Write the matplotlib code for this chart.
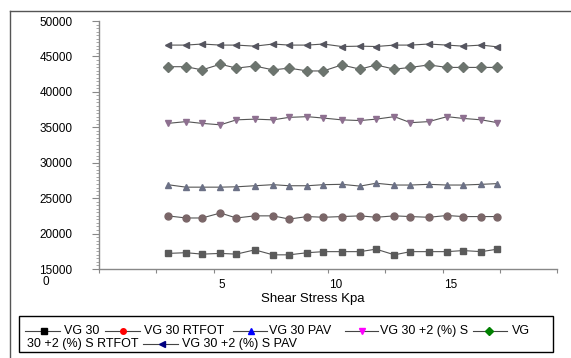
import matplotlib
matplotlib.use("Agg")
import matplotlib.pyplot as plt
import matplotlib.transforms as mtransforms
from matplotlib.lines import Line2D
from matplotlib.patches import Rectangle

plt.rcParams['font.family'] = ['Liberation Sans', 'DejaVu Sans']

# Shear stress (kPa) and complex modulus readings for each binder
shear = [3.0, 3.8, 4.5, 5.3, 6.0, 6.8, 7.6, 8.3, 9.1, 9.8,
         10.6, 11.4, 12.1, 12.9, 13.6, 14.4, 15.2, 15.9, 16.7, 17.4]

vg30 = [17200, 17300, 17100, 17200, 17100, 17700, 17000, 17000, 17300, 17450,
        17450, 17450, 17800, 17000, 17450, 17450, 17450, 17600, 17450, 17800]
vg30_rtfot = [22500, 22200, 22200, 22900, 22200, 22500, 22500, 22050, 22400, 22300,
              22400, 22500, 22300, 22500, 22400, 22300, 22550, 22400, 22400, 22400]
vg30_pav = [26900, 26550, 26550, 26550, 26600, 26750, 26900, 26750, 26750, 26900,
            26950, 26700, 27100, 26850, 26850, 26950, 26850, 26850, 26950, 27050]
vg30_s = [35550, 35800, 35550, 35350, 36050, 36150, 36050, 36400, 36500, 36300,
          36050, 35950, 36150, 36500, 35650, 35800, 36500, 36250, 36050, 35650]
vg30_s_rtfot = [43550, 43550, 43100, 43900, 43350, 43650, 43100, 43350, 42950, 42950,
                43800, 43200, 43800, 43200, 43450, 43800, 43450, 43450, 43450, 43450]
vg30_s_pav = [46600, 46600, 46750, 46600, 46600, 46450, 46750, 46600, 46600, 46750,
              46400, 46450, 46400, 46600, 46600, 46750, 46600, 46450, 46600, 46350]

series = [vg30, vg30_rtfot, vg30_pav, vg30_s, vg30_s_rtfot, vg30_s_pav]
labels = ["VG 30", "VG 30 RTFOT", "VG 30 PAV", "VG 30 +2 (%) S",
          "VG 30 +2 (%) S RTFOT", "VG 30 +2 (%) S PAV"]
markers = ["s", "o", "^", "v", "D", "<"]
legend_colors = ["black", "red", "blue", "magenta", "green", "navy"]
# the markers in the plot look washed out / greyish
plot_colors = ["#5a5a5a", "#7a6668", "#6c7186", "#8e7090", "#6c746e", "#55555f"]

W, H = 571, 358
fig = plt.figure(figsize=(W / 100, H / 100), dpi=100)

def fx(px):
    return px / W

def fy(py):
    return 1 - py / H

ax = fig.add_axes([fx(99), fy(269), fx(557) - fx(99), fy(21) - fy(269)])

for ys, m, c in zip(series, markers, plot_colors):
    ax.plot(shear, ys, color="#555555", lw=0.8, marker=m, markersize=5,
            markerfacecolor=c, markeredgecolor=c)

ax.set_xlim(0, 20)
ax.set_ylim(15000, 50000)
ax.set_yticks(range(15000, 50001, 5000))
ax.set_yticks(range(15000, 50001, 500), minor=True)
ax.set_xticks([0, 2.5, 5, 7.5, 10, 12.5, 15, 17.5, 20])
ax.set_xticklabels(["", "", "5", "", "10", "", "15", "", ""])

for s in ["top", "right"]:
    ax.spines[s].set_visible(False)
for s in ["left", "bottom"]:
    ax.spines[s].set_color("#888888")
    ax.spines[s].set_linewidth(1.0)

ax.tick_params(axis="y", which="major", length=5, color="#888888", pad=14, labelsize=8.5)
ax.tick_params(axis="y", which="minor", length=2, color="#999999")
ax.tick_params(axis="x", length=3, color="#888888", pad=4, labelsize=8.5)

offset = mtransforms.ScaledTranslation(8 / 100, 0, fig.dpi_scale_trans)
for lbl in ax.get_xticklabels():
    lbl.set_transform(lbl.get_transform() + offset)

fig.text(fx(43), fy(282), "0", fontsize=8.5, ha="left", va="center")
fig.text(fx(313), fy(299), "Shear Stress Kpa", fontsize=9.5, ha="center", va="center")

# outer frame (top and left edges only visible)
fig.add_artist(Line2D([fx(10), 1], [fy(11), fy(11)], color="#555555", lw=1))
fig.add_artist(Line2D([fx(10), fx(10)], [fy(11), 0], color="#555555", lw=1))

# legend box drawn by hand, Excel-like wrapping
fig.add_artist(Rectangle((fx(19), fy(352)), fx(553) - fx(19), fy(316) - fy(352),
                         transform=fig.transFigure, fill=False, ec="black", lw=1))

def entry(x0, x1, xm, ym, i):
    fig.add_artist(Line2D([fx(x0), fx(x1)], [fy(ym), fy(ym)], color="#444444", lw=0.8))
    fig.add_artist(Line2D([fx(xm)], [fy(ym)], marker=markers[i], markersize=4,
                          color=legend_colors[i], ls="none"))

row1, row2 = 331, 344
entry(25, 60, 44, row1, 0)
fig.text(fx(64), fy(row1), "VG 30", fontsize=9, va="center")
entry(105, 140, 123, row1, 1)
fig.text(fx(144), fy(row1), "VG 30 RTFOT", fontsize=9, va="center")
entry(233, 267, 251, row1, 2)
fig.text(fx(269), fy(row1), "VG 30 PAV", fontsize=9, va="center")
entry(345, 378, 362, row1, 3)
fig.text(fx(380), fy(row1), "VG 30 +2 (%) S", fontsize=9, va="center")
entry(473, 507, 489, row1, 4)
fig.text(fx(512), fy(row1), "VG", fontsize=9, va="center")
fig.text(fx(27), fy(row2), "30 +2 (%) S RTFOT", fontsize=9, va="center")
entry(143, 178, 162, row2, 5)
fig.text(fx(182), fy(row2), "VG 30 +2 (%) S PAV", fontsize=9, va="center")

fig.savefig("out.png", dpi=100)
